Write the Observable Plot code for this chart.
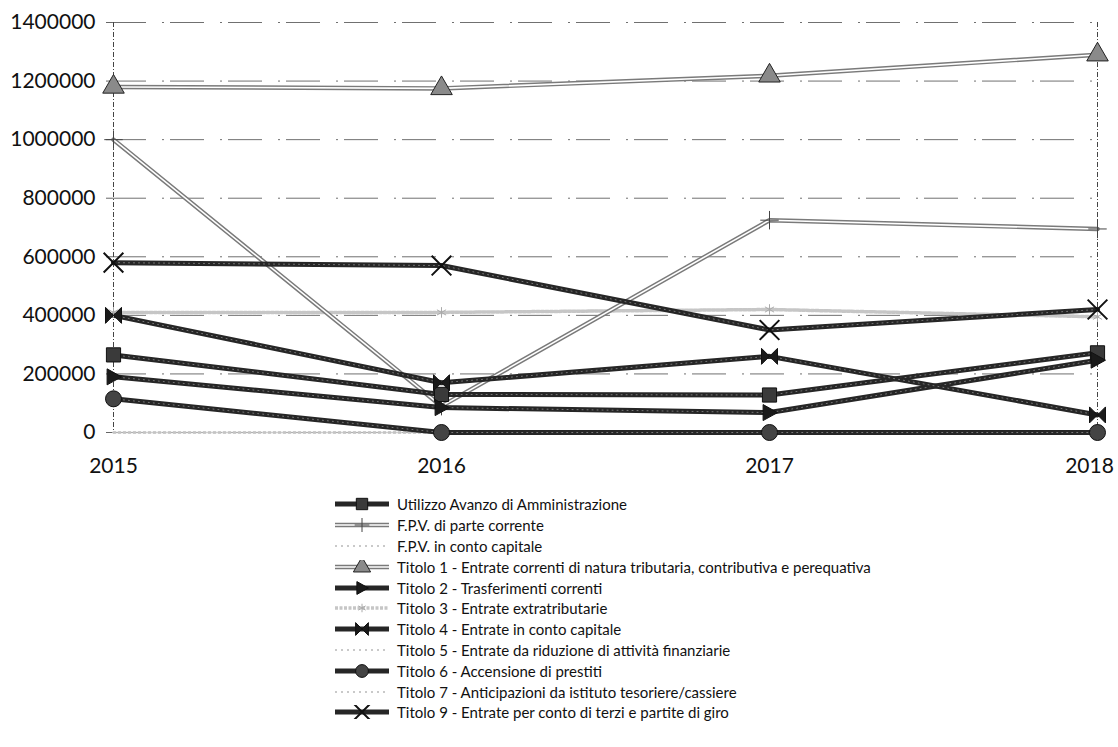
<!DOCTYPE html>
<html><head><meta charset="utf-8">
<script src="https://cdn.jsdelivr.net/npm/d3@7"></script>
<script src="https://cdn.jsdelivr.net/npm/@observablehq/plot@0.6"></script>
<style>
body{margin:0;background:#fff;}
#chart{position:relative;width:1118px;height:747px;overflow:hidden;}
#legend{position:absolute;left:335px;top:494px;font-family:"Liberation Sans Narrow","Arial Narrow",Lato,sans-serif;font-size:15px;color:#111;}
.row{display:flex;align-items:center;height:20.8px;white-space:nowrap;}
.row svg{margin-right:8px;flex:none;}
</style></head><body><div id="chart"></div>
<script>
// ---- data ----
const years = ["2015", "2016", "2017", "2018"];
const yTicks = [0, 200000, 400000, 600000, 800000, 1000000, 1200000, 1400000];
const names = [
  "Utilizzo Avanzo di Amministrazione",
  "F.P.V. di parte corrente",
  "F.P.V. in conto capitale",
  "Titolo 1 - Entrate correnti di natura tributaria, contributiva e perequativa",
  "Titolo 2 - Trasferimenti correnti",
  "Titolo 3 - Entrate extratributarie",
  "Titolo 4 - Entrate in conto capitale",
  "Titolo 5 - Entrate da riduzione di attività finanziarie",
  "Titolo 6 - Accensione di prestiti",
  "Titolo 7 - Anticipazioni da istituto tesoriere/cassiere",
  "Titolo 9 - Entrate per conto di terzi e partite di giro"
];
const utilizzo    = [265000, 130000, 128000, 272000];
const fpvCorrente = [1000000, 90000, 725000, 695000];
const fpvCapitale = [0, 0, 0, 0];
const titolo1     = [1180000, 1175000, 1218000, 1290000];
const titolo2     = [190000, 85000, 68000, 247000];
const titolo3     = [410000, 410000, 420000, 395000];
const titolo4     = [400000, 170000, 260000, 60000];
const titolo5     = [0, 0, 0, 0];
const titolo6     = [115000, 0, 0, 0];
const titolo7     = [0, 0, 0, 0];
const titolo9     = [580000, 570000, 350000, 420000];

const seriesValues = [utilizzo, fpvCorrente, fpvCapitale, titolo1, titolo2, titolo3,
                      titolo4, titolo5, titolo6, titolo7, titolo9];
const rows = names.flatMap((name, i) => years.map((year, j) => ({name, year, value: seriesValues[i][j]})));

// ---- custom symbols ----
const arrowRight = {draw(ctx, size) { const r = Math.sqrt(size / Math.PI);
  ctx.moveTo(r, 0); ctx.lineTo(-r * 0.8, -r); ctx.lineTo(-r * 0.8, r); ctx.closePath(); }};
const bowtie = {draw(ctx, size) { const r = Math.sqrt(size / Math.PI);
  ctx.moveTo(-r, -r); ctx.lineTo(0, 0); ctx.lineTo(-r, r); ctx.closePath();
  ctx.moveTo(r, -r); ctx.lineTo(0, 0); ctx.lineTo(r, r); ctx.closePath(); }};

// ---- styles (by series index) ----
const styles = [
  {kind: "dark",   symbol: d3.symbolSquare, r: 8, fill: "#3a3a3a", stroke: "#111"},
  {kind: "double", symbol: d3.symbolPlus,   r: 6, fill: "none", stroke: "#444"},
  {kind: "faint"},
  {kind: "double", symbol: d3.symbolTriangle, r: 8, fill: "#8a8a8a", stroke: "#222"},
  {kind: "dark",   symbol: arrowRight, r: 8, fill: "#1a1a1a", stroke: "#111"},
  {kind: "light",  symbol: d3.symbolAsterisk, r: 5, fill: "none", stroke: "#aaa"},
  {kind: "dark",   symbol: bowtie, r: 8, fill: "#1a1a1a", stroke: "#111"},
  {kind: "faint"},
  {kind: "dark",   symbol: d3.symbolCircle, r: 8, fill: "#444", stroke: "#111"},
  {kind: "faint"},
  {kind: "dark",   symbol: d3.symbolTimes, r: 9, fill: "none", stroke: "#111", sw: 2}
];

function lineMarks(data, st) {
  const o = {x: "year", y: "value"};
  if (st.kind === "dark") return [Plot.line(data, {...o, stroke: "#262626", strokeWidth: 5}),
                                  Plot.line(data, {...o, stroke: "#777", strokeWidth: 1, strokeDasharray: "1,4"})];
  if (st.kind === "double") return [Plot.line(data, {...o, stroke: "#7a7a7a", strokeWidth: 4.5}),
                                    Plot.line(data, {...o, stroke: "#fff", strokeWidth: 1.6})];
  if (st.kind === "light") return [Plot.line(data, {...o, stroke: "#c6c6c6", strokeWidth: 3.5, strokeDasharray: "3,1.5"})];
  return [Plot.line(data, {...o, stroke: "#c4c4c4", strokeWidth: 2, strokeDasharray: "2,3"})];
}
function dotMarks(data, st) {
  if (!st.symbol) return [];
  return [Plot.dot(data, {x: "year", y: "value", symbol: () => st.symbol, r: st.r,
    fill: st.fill, stroke: st.stroke, strokeWidth: st.sw || 1})];
}
const order = [2, 7, 9, 5, 1, 3, 0, 4, 8, 6, 10];
const seriesMarks = [];
for (const i of order) {
  const data = rows.filter(d => d.name === names[i]);
  seriesMarks.push(...lineMarks(data, styles[i]));
}
for (const i of order) {
  const data = rows.filter(d => d.name === names[i]);
  seriesMarks.push(...dotMarks(data, styles[i]));
}

const chart = Plot.plot({
  width: 1118, height: 490,
  marginLeft: 112, marginRight: 21, marginTop: 22, marginBottom: 58,
  style: {fontFamily: "Lato, 'Liberation Sans', sans-serif", fontSize: "21px", color: "#111", background: "transparent", overflow: "visible"},
  x: {type: "point", domain: years, padding: 0, label: null},
  y: {domain: [0, 1400000], label: null},
  marks: [
    Plot.gridY(yTicks, {stroke: "#707070", strokeOpacity: 1, strokeDasharray: "34,16,2,6"}),
    Plot.ruleX([years[0], years[years.length - 1]], {stroke: "#444", strokeDasharray: "5,2,1,2"}),
    Plot.axisY(yTicks, {tickFormat: d3.format("d"), tickSize: 6, tickPadding: 11, fontSize: 21, stroke: "#666", label: null}),
    Plot.axisX(years.slice(0, -1), {tickSize: 0, tickPadding: 26, fontSize: 21, label: null}),
    Plot.axisX(years.slice(-1), {tickSize: 0, tickPadding: 26, fontSize: 21, dx: -8, label: null}),
    ...seriesMarks
  ]
});
document.getElementById("chart").appendChild(chart);

// ---- legend ----
const legend = document.createElement("div");
legend.id = "legend";
names.forEach((name, i) => {
  const st = styles[i];
  const row = document.createElement("div");
  row.className = "row";
  const svg = d3.create("svg").attr("width", 54).attr("height", 14);
  const lineStyle = {
    dark: [["#262626", 5, null]],
    double: [["#7a7a7a", 4.5, null], ["#fff", 1.6, null]],
    light: [["#c6c6c6", 3.5, "3,1.5"]],
    faint: [["#b8b8b8", 1.5, "2,4"]]
  }[st.kind];
  for (const [c, w, da] of lineStyle)
    svg.append("line").attr("x1", 0).attr("x2", 54).attr("y1", 7).attr("y2", 7)
      .attr("stroke", c).attr("stroke-width", w).attr("stroke-dasharray", da);
  if (st.symbol) {
    const rr = st.r * 0.8;
    svg.append("path").attr("transform", "translate(27,7)")
      .attr("d", d3.symbol(st.symbol, rr * rr * Math.PI)())
      .attr("fill", st.fill).attr("stroke", st.stroke).attr("stroke-width", st.sw || 1);
  }
  row.appendChild(svg.node());
  const span = document.createElement("span");
  span.textContent = name;
  row.appendChild(span);
  legend.appendChild(row);
});
document.getElementById("chart").appendChild(legend);
</script>
</body></html>
